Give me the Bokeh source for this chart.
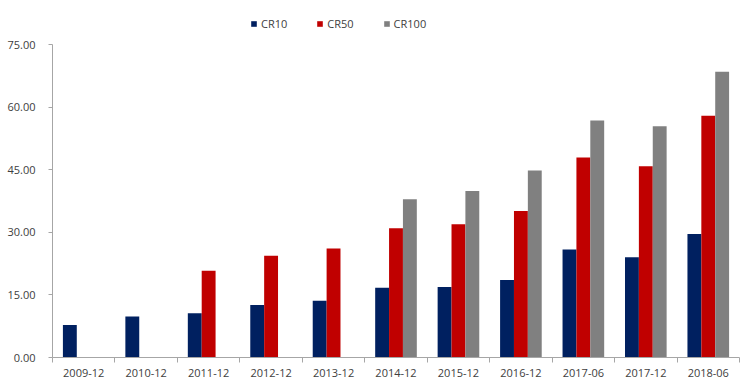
from bokeh.plotting import figure
from bokeh.models import ColumnDataSource, FixedTicker, Legend, LegendItem, Range1d, NumeralTickFormatter
from bokeh.embed import file_html
from bokeh.resources import INLINE

categories = ["2009-12", "2010-12", "2011-12", "2012-12", "2013-12", "2014-12",
              "2015-12", "2016-12", "2017-06", "2017-12", "2018-06"]
cr10 = [7.8, 9.8, 10.6, 12.6, 13.6, 16.7, 16.9, 18.6, 25.9, 24.0, 29.6]
cr50 = [0, 0, 20.8, 24.4, 26.1, 31.0, 31.9, 35.1, 47.9, 45.8, 57.9]
cr100 = [0, 0, 0, 0, 0, 37.9, 39.9, 44.8, 56.8, 55.4, 68.5]
series_names = ["CR10", "CR50", "CR100"]
colors = ["#002060", "#C00000", "#808080"]
y_ticks = [0, 15, 30, 45, 60, 75]

FONT = "Open Sans"
TXT = "#404040"
AX = "#a6a6a6"

n = len(categories)
w = 1 / 4.5
centers = [i + 0.5 for i in range(n)]

p = figure(frame_width=687, frame_height=343, output_backend="svg", toolbar_location=None,
           x_range=Range1d(0, n), y_range=Range1d(0, 82.19),
           min_border_left=52, min_border_right=6, min_border_top=14, min_border_bottom=20)
p.outline_line_color = None
p.xgrid.visible = False
p.ygrid.visible = False

renderers = []
for k, (vals, c) in enumerate(zip([cr10, cr50, cr100], colors)):
    xs = [cx + (k - 1) * w for cx in centers]
    src = ColumnDataSource(dict(x=xs, top=vals))
    r = p.vbar(x="x", top="top", width=w, bottom=0, source=src, fill_color=c, line_color=None)
    renderers.append(r)

# x axis
p.xaxis.ticker = FixedTicker(ticks=centers, minor_ticks=list(range(n + 1)))
p.xaxis.major_label_overrides = {c: lab for c, lab in zip(centers, categories)}
p.xaxis.major_tick_out = 0
p.xaxis.major_tick_in = 0
p.xaxis.minor_tick_out = 5
p.xaxis.minor_tick_in = 0
p.xaxis.minor_tick_line_color = AX
p.xaxis.axis_line_color = AX
p.xaxis.major_label_standoff = 6
p.xaxis.major_label_text_font = FONT
p.xaxis.major_label_text_font_size = "11px"
p.xaxis.major_label_text_color = TXT

# y axis
p.yaxis.ticker = FixedTicker(ticks=y_ticks, minor_ticks=[])
p.yaxis.bounds = (0, 75)
p.yaxis.formatter = NumeralTickFormatter(format="0.00")
p.yaxis.major_tick_out = 4
p.yaxis.major_tick_in = 0
p.yaxis.major_tick_line_color = AX
p.yaxis.axis_line_color = AX
p.yaxis.major_label_standoff = 13
p.yaxis.major_label_text_font = FONT
p.yaxis.major_label_text_font_size = "11px"
p.yaxis.major_label_text_color = TXT

legend = Legend(items=[LegendItem(label=nm, renderers=[r]) for nm, r in zip(series_names, renderers)],
                orientation="horizontal", location=(198, 326),
                glyph_width=7, glyph_height=7, label_standoff=4, spacing=29,
                label_text_font=FONT, label_text_font_size="11px", label_text_color=TXT,
                border_line_color=None, background_fill_alpha=0, padding=0, margin=0)
p.add_layout(legend)

open("out.html", "w").write(file_html(p, INLINE))
